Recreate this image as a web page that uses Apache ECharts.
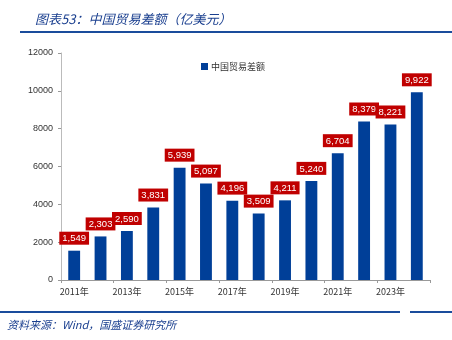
<!DOCTYPE html>
<html><head><meta charset="utf-8">
<script src="https://cdn.jsdelivr.net/npm/echarts@6/dist/echarts.min.js"></script>
<style>html,body{margin:0;padding:0;background:#fff;}#c{width:452px;height:340px;}</style>
</head><body><div id="c"></div>
<script>
const categories = ['2011年','2012年','2013年','2014年','2015年','2016年','2017年','2018年','2019年','2020年','2021年','2022年','2023年','2024年'];
const values = [1549,2303,2590,3831,5939,5097,4196,3509,4211,5240,6704,8379,8221,9922];
const yTicks = [0,2000,4000,6000,8000,10000,12000];
const seriesName = '中国贸易差额';
const titleText = '图表53：中国贸易差额（亿美元）';
const sourceText = '资料来源：Wind，国盛证券研究所';

const chart = echarts.init(document.getElementById('c'));
chart.setOption({
  animation: false,
  title: [
    {text: titleText, left: 30, top: 8, textStyle:{fontSize:13, fontStyle:'italic', fontWeight:'normal', color:'#1a3f8f', fontFamily:'Noto Sans CJK SC'}},
    {text: sourceText, left: 2, top: 314, textStyle:{fontSize:11, fontStyle:'italic', fontWeight:'normal', color:'#1a3f8f', fontFamily:'Noto Sans CJK SC'}}
  ],
  graphic: [
    {type:'rect', shape:{x:20,y:31,width:432,height:2}, style:{fill:'#1a4c9c'}},
    {type:'rect', shape:{x:0,y:311,width:400,height:2}, style:{fill:'#1a4c9c'}},
    {type:'rect', shape:{x:410,y:311,width:42,height:2}, style:{fill:'#1a4c9c'}}
  ],
  legend: {data:[seriesName], left: 196, top: 57, itemWidth:7, itemHeight:7, itemGap:4, icon:'rect',
    textStyle:{fontSize:9, color:'#333', fontFamily:'Noto Sans CJK SC', padding:[0,0,0,-2]}},
  grid: {left: 61, right: 22, top: 53, bottom: 60, containLabel:false},
  xAxis: {type:'category', data: categories,
    axisLine:{lineStyle:{color:'#999'}},
    axisTick:{show:true, length:3, lineStyle:{color:'#999'}},
    axisLabel:{interval:1, fontSize:9, color:'#333', margin:7, fontFamily:'Noto Sans CJK SC'}},
  yAxis: {type:'value', min:yTicks[0], max:yTicks[yTicks.length-1], interval:yTicks[1]-yTicks[0],
    axisLine:{show:true, lineStyle:{color:'#bbb'}},
    axisTick:{show:true, length:3, lineStyle:{color:'#999'}},
    splitLine:{show:false},
    axisLabel:{fontSize:9, color:'#333', margin:8, fontFamily:'Liberation Sans', formatter: v => String(v)}},
  series: [{
    name: seriesName, type:'bar', data: values, barWidth:'45%',
    itemStyle:{color:'#003f98'},
    label:{show:true, position:'top', distance:6, color:'#fff', fontSize:9.5, fontFamily:'Liberation Sans',
      backgroundColor:'#c00000', padding:[2,3,1,3],
      formatter: p => p.value.toLocaleString('en-US')}
  }]
});
</script></body></html>
